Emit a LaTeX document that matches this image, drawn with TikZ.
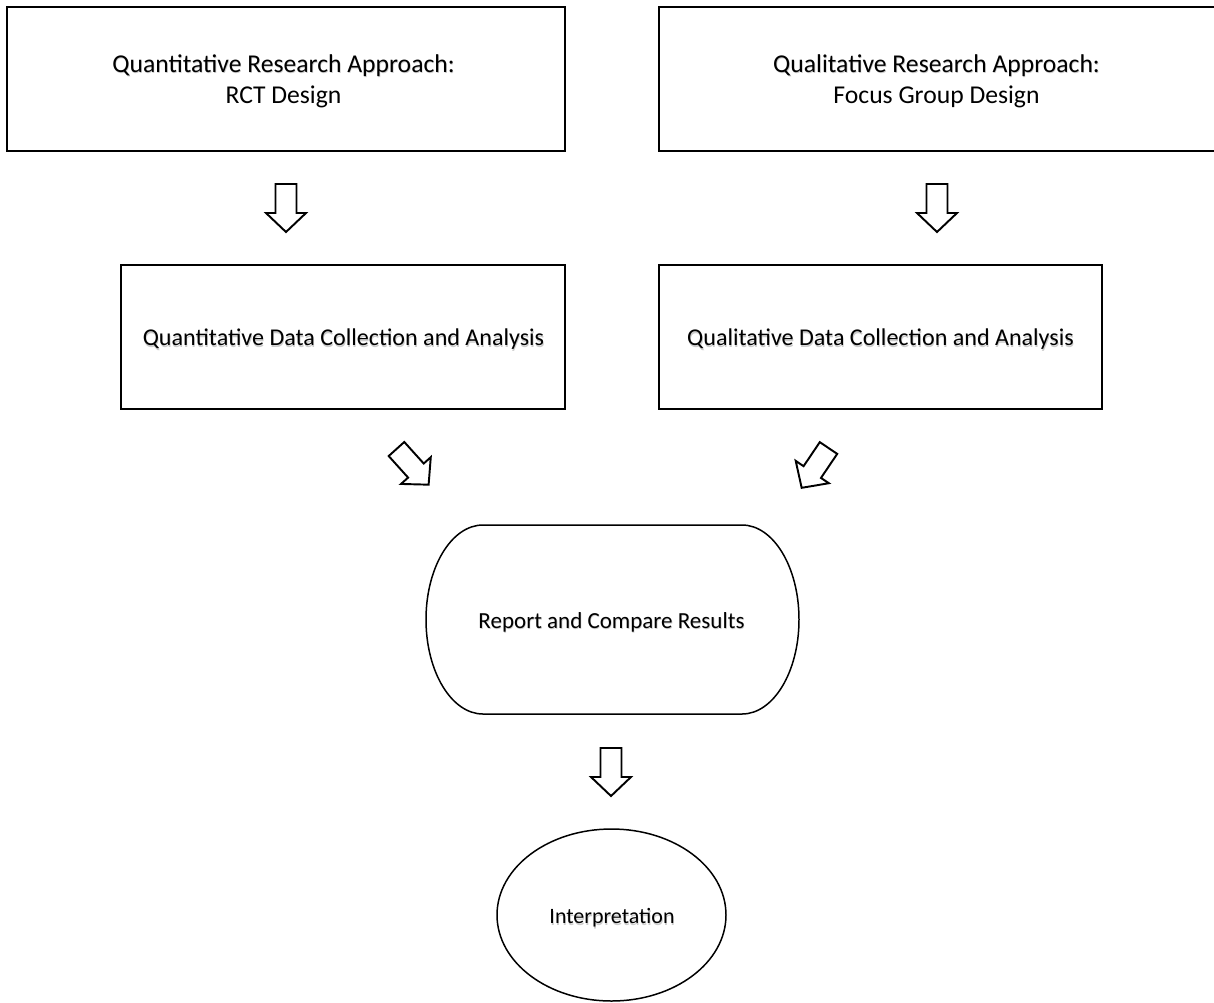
\documentclass[tikz,border=0pt]{standalone}
\usepackage{fontspec}
\setmainfont{Carlito}
\usetikzlibrary{shapes.geometric}
\begin{document}
\begin{tikzpicture}[x=0.02cm,y=-0.02cm,
  box/.style={draw=black,line width=0.85pt,rectangle,inner sep=0pt},
  lbl/.style={inner sep=0pt,align=center},
  shadowlbl/.style={lbl,text=black!20,xshift=0.012cm,yshift=-0.024cm},
  toptext/.style={font=\fontsize{14.6}{17.6}\selectfont},
  midtext/.style={font=\fontsize{13.7}{16}\selectfont},
  reptext/.style={font=\fontsize{13.1}{16}\selectfont},
  inttext/.style={font=\fontsize{12.5}{15}\selectfont},
  blockarrow/.pic={
    \draw[line width=1.1pt,line join=miter,fill=white]
      (0,-10.5) -- (29,-10.5) -- (29,-20) -- (48,0) -- (29,20) -- (29,10.5) -- (0,10.5) -- cycle;
  }]
\useasboundingbox (0,0) rectangle (1214,1002);
\clip (0,0) rectangle (1214,1002);
\fill[white] (0,0) rectangle (1214,1002);

% design boxes
\node[box,minimum width=558*0.02cm,minimum height=144*0.02cm] (quant) at (286,79) {};
\node[box,minimum width=556*0.02cm,minimum height=144*0.02cm] (qual) at (937,79) {};
\node[shadowlbl,toptext,anchor=north] (quantsh) at (283.5,54.5) {Quantitative Research Approach:};
\node[lbl,toptext,anchor=north] (quanttitle) at (283.5,54.5) {Quantitative Research Approach:};
\node[lbl,toptext,anchor=north] (quantsub) at (283.5,85.5) {RCT Design};
\node[shadowlbl,toptext,anchor=north] (qualsh) at (936.5,54.5) {Qualitative Research Approach:};
\node[lbl,toptext,anchor=north] (qualtitle) at (936.5,54.5) {Qualitative Research Approach:};
\node[lbl,toptext,anchor=north] (qualsub) at (936.5,85.5) {Focus Group Design};

% data collection boxes
\node[box,minimum width=444*0.02cm,minimum height=144*0.02cm] (quantdata) at (343,337) {};
\node[box,minimum width=443*0.02cm,minimum height=144*0.02cm] (qualdata) at (880.5,337) {};
\node[shadowlbl,midtext] (quantdatash) at (343.5,339.5) {Quantitative Data Collection and Analysis};
\node[lbl,midtext] (quantdatalbl) at (343.5,339.5) {Quantitative Data Collection and Analysis};
\node[shadowlbl,midtext] (qualdatash) at (880.5,339.5) {Qualitative Data Collection and Analysis};
\node[lbl,midtext] (qualdatalbl) at (880.5,339.5) {Qualitative Data Collection and Analysis};

% report (terminator shape)
\draw[line width=0.85pt]
  (483,525) -- (742,525)
  arc[start angle=-90,end angle=90,x radius=57,y radius=94.5] -- (483,714)
  arc[start angle=90,end angle=270,x radius=57,y radius=94.5] -- cycle;
\node[shadowlbl,reptext] (reportsh) at (611.5,622) {Report and Compare Results};
\node[lbl,reptext] (report) at (611.5,622) {Report and Compare Results};

% interpretation
\node[draw,ellipse,line width=0.85pt,inner sep=0pt,
  minimum width=229*0.02cm,minimum height=172*0.02cm] (interp) at (611.5,915) {};
\node[shadowlbl,inttext] (interpsh) at (612,918) {Interpretation};
\node[lbl,inttext] (interplbl) at (612,918) {Interpretation};

% block arrows
\pic (a1) at (286,184) [rotate=-90] {blockarrow};
\pic (a2) at (937,184) [rotate=-90] {blockarrow};
\pic (a3) at (396.5,449) [rotate=-48] {blockarrow};
\pic (a4) at (828.5,448) [rotate=-124] {blockarrow};
\pic (a5) at (611,748) [rotate=-90] {blockarrow};
\end{tikzpicture}
\end{document}
